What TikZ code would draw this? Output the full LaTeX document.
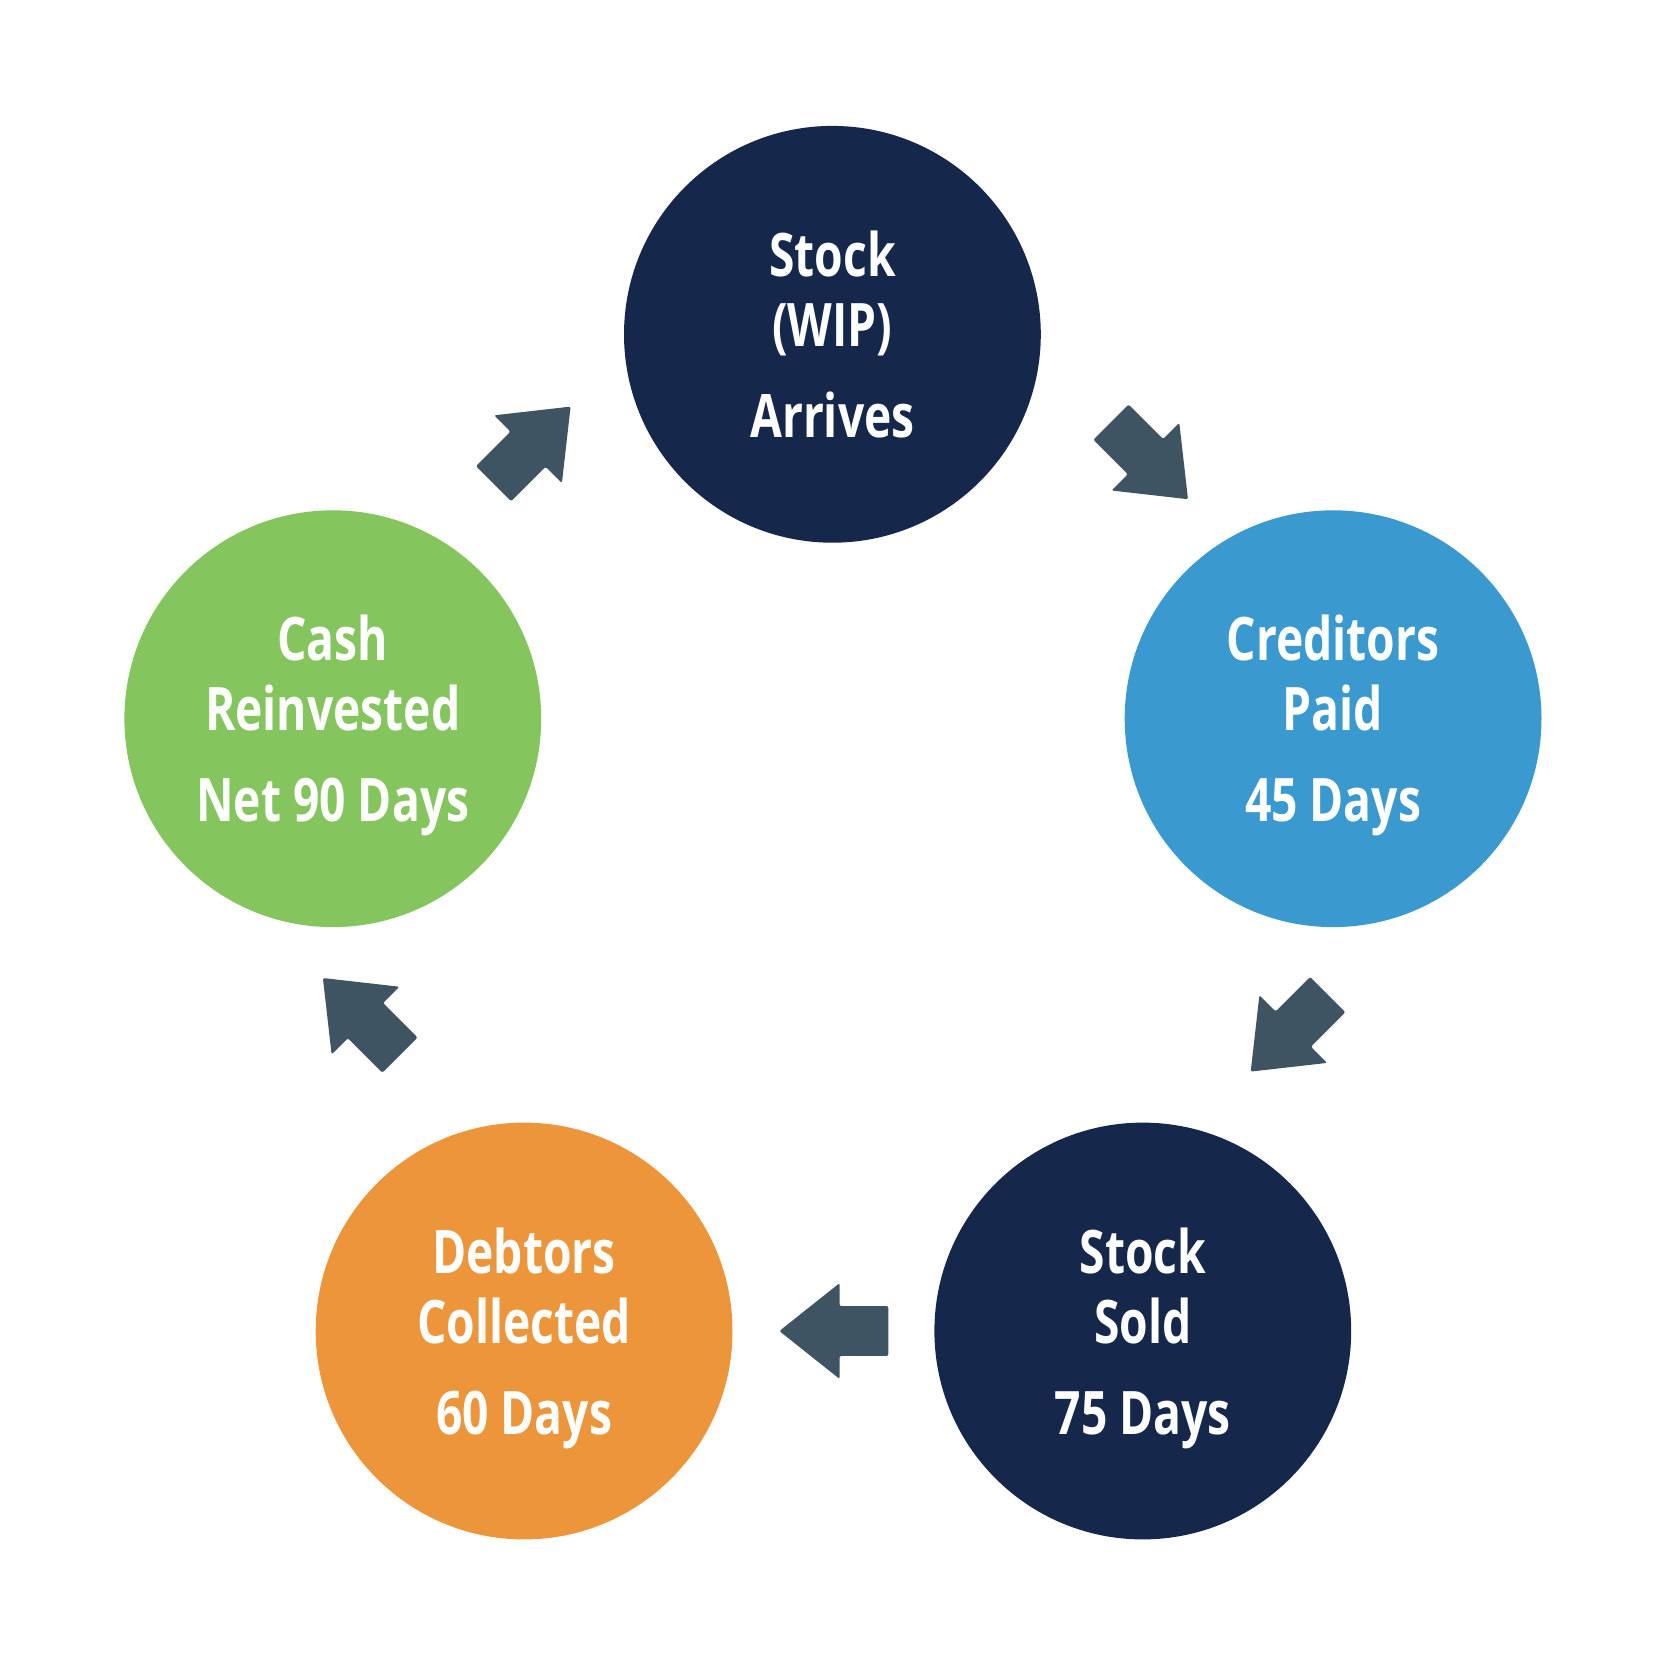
\documentclass[tikz,border=0pt]{standalone}
\usepackage{fontspec}
\setmainfont{Open Sans}[FakeStretch=0.77]
\usepackage{tikz}
\usetikzlibrary{shapes.arrows, positioning}
\definecolor{navy}{HTML}{15284C}
\definecolor{skyblue}{HTML}{3A99CF}
\definecolor{leafgreen}{HTML}{84C55E}
\definecolor{amber}{HTML}{EC953B}
\definecolor{slate}{HTML}{3F5463}
\newcommand{\stagetext}[3]{\rule{0pt}{30pt}#1\\#2\\[10.5pt]#3\rule[-7.5pt]{0pt}{7.5pt}}

\begin{document}
\begin{tikzpicture}[
  x=0.5pt, y=-0.5pt,
  stage/.style={circle, minimum size=208.4pt, inner sep=0pt, text=white, align=center,
    font=\bfseries\fontsize{30}{35}\selectfont},
  flow/.style={single arrow, fill=slate, minimum height=54.5pt, inner xsep=0pt,
    inner ysep=12.25pt, single arrow head extend=11.5pt, single arrow tip angle=77,
    rounded corners=1pt},
]
\useasboundingbox (0,0) rectangle (1667,1667);
\node[stage, fill=navy] (arrives) at (832.4,334.3) {\stagetext{Stock}{(WIP)}{Arrives}};
\node[stage, fill=skyblue] (creditors) at (1333.1,718.7) {\stagetext{Creditors}{Paid}{45 Days}};
\node[stage, fill=navy] (sold) at (1142.8,1331) {\stagetext{Stock}{Sold}{75 Days}};
\node[stage, fill=amber] (debtors) at (524.1,1331) {\stagetext{Debtors}{Collected}{60 Days}};
\node[stage, fill=leafgreen] (cash) at (332.8,718.7) {\stagetext{Cash}{Reinvested}{Net 90 Days}};
% arrows between the stages
\node[flow, rotate=-45] (a1) at (1138.4,449.6) {};
\node[flow, rotate=-135] (a2) at (1300.3,1022) {};
\node[flow, rotate=180] (a3) at (849.5,1331) {};
\node[flow, rotate=135] (a4) at (372.5,1027.6) {};
\node[flow, rotate=45] (a5) at (521,456.2) {};
\end{tikzpicture}
\end{document}
